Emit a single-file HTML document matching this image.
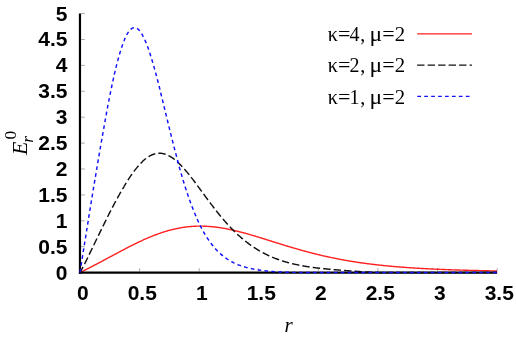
<!DOCTYPE html>
<html><head><meta charset="utf-8"><style>
html,body{margin:0;padding:0;background:#fff;}
svg{display:block;will-change:transform}
.b{font-family:"Liberation Sans",sans-serif;font-weight:bold;font-size:21px;fill:#000}
.s{font-family:"Liberation Serif",serif;font-size:20px;fill:#000}
.i{font-family:"Liberation Serif",serif;font-style:italic;fill:#000}
</style></head><body>
<svg width="516" height="338" viewBox="0 0 516 338">
<rect width="516" height="338" fill="#fff"/>
<line x1="80.0" y1="271.4" x2="80.0" y2="268.2" stroke="#444" stroke-width="0.45"/>
<line x1="139.6" y1="271.4" x2="139.6" y2="268.2" stroke="#444" stroke-width="0.45"/>
<line x1="199.2" y1="271.4" x2="199.2" y2="268.2" stroke="#444" stroke-width="0.45"/>
<line x1="258.7" y1="271.4" x2="258.7" y2="268.2" stroke="#444" stroke-width="0.45"/>
<line x1="318.3" y1="271.4" x2="318.3" y2="268.2" stroke="#444" stroke-width="0.45"/>
<line x1="377.9" y1="271.4" x2="377.9" y2="268.2" stroke="#444" stroke-width="0.45"/>
<line x1="437.5" y1="271.4" x2="437.5" y2="268.2" stroke="#444" stroke-width="0.45"/>
<line x1="497.1" y1="271.4" x2="497.1" y2="268.2" stroke="#444" stroke-width="0.45"/>
<line x1="81" y1="272.6" x2="84.8" y2="272.6" stroke="#444" stroke-width="0.45"/>
<line x1="81" y1="246.7" x2="84.8" y2="246.7" stroke="#444" stroke-width="0.45"/>
<line x1="81" y1="220.8" x2="84.8" y2="220.8" stroke="#444" stroke-width="0.45"/>
<line x1="81" y1="194.9" x2="84.8" y2="194.9" stroke="#444" stroke-width="0.45"/>
<line x1="81" y1="169.0" x2="84.8" y2="169.0" stroke="#444" stroke-width="0.45"/>
<line x1="81" y1="143.1" x2="84.8" y2="143.1" stroke="#444" stroke-width="0.45"/>
<line x1="81" y1="117.2" x2="84.8" y2="117.2" stroke="#444" stroke-width="0.45"/>
<line x1="81" y1="91.3" x2="84.8" y2="91.3" stroke="#444" stroke-width="0.45"/>
<line x1="81" y1="65.4" x2="84.8" y2="65.4" stroke="#444" stroke-width="0.45"/>
<line x1="81" y1="39.5" x2="84.8" y2="39.5" stroke="#444" stroke-width="0.45"/>
<line x1="81" y1="13.6" x2="84.8" y2="13.6" stroke="#444" stroke-width="0.45"/>

<path d="M80.0,272.55 L80.6,272.26 L81.2,271.96 L81.8,271.67 L82.4,271.37 L83.0,271.07 L83.6,270.78 L84.2,270.48 L84.8,270.18 L85.4,269.88 L86.0,269.58 L86.6,269.28 L87.2,268.97 L87.8,268.67 L88.4,268.37 L88.9,268.06 L89.5,267.76 L90.1,267.45 L90.7,267.14 L91.3,266.84 L91.9,266.53 L92.5,266.22 L93.1,265.91 L93.7,265.60 L94.3,265.29 L94.9,264.97 L95.5,264.66 L96.1,264.35 L96.7,264.04 L97.3,263.72 L97.9,263.41 L98.5,263.09 L99.1,262.78 L99.7,262.46 L100.3,262.14 L100.9,261.83 L101.5,261.51 L102.1,261.19 L102.7,260.87 L103.3,260.56 L103.9,260.24 L104.5,259.92 L105.1,259.60 L105.7,259.28 L106.3,258.96 L106.8,258.64 L107.4,258.32 L108.0,258.00 L108.6,257.68 L109.2,257.36 L109.8,257.04 L110.4,256.72 L111.0,256.40 L111.6,256.08 L112.2,255.76 L112.8,255.44 L113.4,255.12 L114.0,254.80 L114.6,254.48 L115.2,254.16 L115.8,253.84 L116.4,253.52 L117.0,253.20 L117.6,252.88 L118.2,252.56 L118.8,252.25 L119.4,251.93 L120.0,251.61 L120.6,251.29 L121.2,250.98 L121.8,250.66 L122.4,250.35 L123.0,250.04 L123.6,249.72 L124.2,249.41 L124.7,249.10 L125.3,248.79 L125.9,248.48 L126.5,248.17 L127.1,247.86 L127.7,247.55 L128.3,247.24 L128.9,246.94 L129.5,246.63 L130.1,246.33 L130.7,246.03 L131.3,245.73 L131.9,245.42 L132.5,245.13 L133.1,244.83 L133.7,244.53 L134.3,244.24 L134.9,243.94 L135.5,243.65 L136.1,243.36 L136.7,243.07 L137.3,242.78 L137.9,242.49 L138.5,242.21 L139.1,241.92 L139.7,241.64 L140.3,241.36 L140.9,241.08 L141.5,240.80 L142.1,240.53 L142.6,240.26 L143.2,239.98 L143.8,239.71 L144.4,239.45 L145.0,239.18 L145.6,238.92 L146.2,238.65 L146.8,238.39 L147.4,238.14 L148.0,237.88 L148.6,237.63 L149.2,237.37 L149.8,237.12 L150.4,236.88 L151.0,236.63 L151.6,236.39 L152.2,236.15 L152.8,235.91 L153.4,235.67 L154.0,235.44 L154.6,235.21 L155.2,234.98 L155.8,234.75 L156.4,234.53 L157.0,234.31 L157.6,234.09 L158.2,233.87 L158.8,233.66 L159.4,233.45 L160.0,233.24 L160.5,233.04 L161.1,232.83 L161.7,232.63 L162.3,232.44 L162.9,232.24 L163.5,232.05 L164.1,231.86 L164.7,231.67 L165.3,231.49 L165.9,231.31 L166.5,231.13 L167.1,230.96 L167.7,230.79 L168.3,230.62 L168.9,230.45 L169.5,230.29 L170.1,230.13 L170.7,229.97 L171.3,229.82 L171.9,229.67 L172.5,229.52 L173.1,229.37 L173.7,229.23 L174.3,229.09 L174.9,228.96 L175.5,228.82 L176.1,228.70 L176.7,228.57 L177.3,228.45 L177.9,228.33 L178.4,228.21 L179.0,228.10 L179.6,227.99 L180.2,227.88 L180.8,227.77 L181.4,227.67 L182.0,227.58 L182.6,227.48 L183.2,227.39 L183.8,227.30 L184.4,227.22 L185.0,227.14 L185.6,227.06 L186.2,226.98 L186.8,226.91 L187.4,226.84 L188.0,226.78 L188.6,226.71 L189.2,226.65 L189.8,226.60 L190.4,226.55 L191.0,226.50 L191.6,226.45 L192.2,226.41 L192.8,226.37 L193.4,226.33 L194.0,226.30 L194.6,226.26 L195.2,226.24 L195.8,226.21 L196.3,226.19 L196.9,226.17 L197.5,226.16 L198.1,226.15 L198.7,226.14 L199.3,226.13 L199.9,226.13 L200.5,226.13 L201.1,226.13 L201.7,226.14 L202.3,226.15 L202.9,226.16 L203.5,226.18 L204.1,226.19 L204.7,226.21 L205.3,226.24 L205.9,226.27 L206.5,226.30 L207.1,226.33 L207.7,226.36 L208.3,226.40 L208.9,226.44 L209.5,226.49 L210.1,226.53 L210.7,226.58 L211.3,226.64 L211.9,226.69 L212.5,226.75 L213.1,226.81 L213.7,226.87 L214.2,226.94 L214.8,227.00 L215.4,227.07 L216.0,227.15 L216.6,227.22 L217.2,227.30 L217.8,227.38 L218.4,227.47 L219.0,227.55 L219.6,227.64 L220.2,227.73 L220.8,227.82 L221.4,227.92 L222.0,228.01 L222.6,228.11 L223.2,228.21 L223.8,228.32 L224.4,228.42 L225.0,228.53 L225.6,228.64 L226.2,228.76 L226.8,228.87 L227.4,228.99 L228.0,229.10 L228.6,229.23 L229.2,229.35 L229.8,229.47 L230.4,229.60 L231.0,229.73 L231.5,229.86 L232.1,229.99 L232.7,230.12 L233.3,230.26 L233.9,230.39 L234.5,230.53 L235.1,230.67 L235.7,230.81 L236.3,230.96 L236.9,231.10 L237.5,231.25 L238.1,231.40 L238.7,231.55 L239.3,231.70 L239.9,231.85 L240.5,232.00 L241.1,232.16 L241.7,232.32 L242.3,232.47 L242.9,232.63 L243.5,232.79 L244.1,232.95 L244.7,233.12 L245.3,233.28 L245.9,233.45 L246.5,233.61 L247.1,233.78 L247.7,233.95 L248.3,234.12 L248.9,234.29 L249.4,234.46 L250.0,234.63 L250.6,234.80 L251.2,234.98 L251.8,235.15 L252.4,235.33 L253.0,235.50 L253.6,235.68 L254.2,235.86 L254.8,236.04 L255.4,236.22 L256.0,236.40 L256.6,236.58 L257.2,236.76 L257.8,236.94 L258.4,237.12 L259.0,237.30 L259.6,237.49 L260.2,237.67 L260.8,237.85 L261.4,238.04 L262.0,238.22 L262.6,238.41 L263.2,238.59 L263.8,238.78 L264.4,238.96 L265.0,239.15 L265.6,239.34 L266.2,239.52 L266.8,239.71 L267.3,239.90 L267.9,240.08 L268.5,240.27 L269.1,240.46 L269.7,240.65 L270.3,240.83 L270.9,241.02 L271.5,241.21 L272.1,241.40 L272.7,241.58 L273.3,241.77 L273.9,241.96 L274.5,242.15 L275.1,242.33 L275.7,242.52 L276.3,242.71 L276.9,242.89 L277.5,243.08 L278.1,243.27 L278.7,243.45 L279.3,243.64 L279.9,243.83 L280.5,244.01 L281.1,244.20 L281.7,244.38 L282.3,244.57 L282.9,244.75 L283.5,244.93 L284.1,245.12 L284.7,245.30 L285.2,245.48 L285.8,245.67 L286.4,245.85 L287.0,246.03 L287.6,246.21 L288.2,246.39 L288.8,246.57 L289.4,246.75 L290.0,246.93 L290.6,247.11 L291.2,247.28 L291.8,247.46 L292.4,247.64 L293.0,247.82 L293.6,247.99 L294.2,248.17 L294.8,248.34 L295.4,248.51 L296.0,248.69 L296.6,248.86 L297.2,249.03 L297.8,249.20 L298.4,249.37 L299.0,249.54 L299.6,249.71 L300.2,249.88 L300.8,250.05 L301.4,250.22 L302.0,250.38 L302.6,250.55 L303.1,250.71 L303.7,250.88 L304.3,251.04 L304.9,251.20 L305.5,251.37 L306.1,251.53 L306.7,251.69 L307.3,251.85 L307.9,252.01 L308.5,252.17 L309.1,252.32 L309.7,252.48 L310.3,252.64 L310.9,252.79 L311.5,252.94 L312.1,253.10 L312.7,253.25 L313.3,253.40 L313.9,253.55 L314.5,253.70 L315.1,253.85 L315.7,254.00 L316.3,254.15 L316.9,254.29 L317.5,254.44 L318.1,254.59 L318.7,254.73 L319.3,254.87 L319.9,255.01 L320.5,255.16 L321.0,255.30 L321.6,255.44 L322.2,255.58 L322.8,255.71 L323.4,255.85 L324.0,255.99 L324.6,256.12 L325.2,256.26 L325.8,256.39 L326.4,256.52 L327.0,256.66 L327.6,256.79 L328.2,256.92 L328.8,257.05 L329.4,257.18 L330.0,257.30 L330.6,257.43 L331.2,257.56 L331.8,257.68 L332.4,257.81 L333.0,257.93 L333.6,258.05 L334.2,258.17 L334.8,258.29 L335.4,258.41 L336.0,258.53 L336.6,258.65 L337.2,258.77 L337.8,258.89 L338.4,259.00 L338.9,259.12 L339.5,259.23 L340.1,259.34 L340.7,259.46 L341.3,259.57 L341.9,259.68 L342.5,259.79 L343.1,259.90 L343.7,260.00 L344.3,260.11 L344.9,260.22 L345.5,260.32 L346.1,260.43 L346.7,260.53 L347.3,260.64 L347.9,260.74 L348.5,260.84 L349.1,260.94 L349.7,261.04 L350.3,261.14 L350.9,261.24 L351.5,261.34 L352.1,261.43 L352.7,261.53 L353.3,261.62 L353.9,261.72 L354.5,261.81 L355.1,261.91 L355.7,262.00 L356.3,262.09 L356.8,262.18 L357.4,262.27 L358.0,262.36 L358.6,262.45 L359.2,262.54 L359.8,262.62 L360.4,262.71 L361.0,262.79 L361.6,262.88 L362.2,262.96 L362.8,263.05 L363.4,263.13 L364.0,263.21 L364.6,263.29 L365.2,263.37 L365.8,263.45 L366.4,263.53 L367.0,263.61 L367.6,263.69 L368.2,263.77 L368.8,263.84 L369.4,263.92 L370.0,263.99 L370.6,264.07 L371.2,264.14 L371.8,264.21 L372.4,264.29 L373.0,264.36 L373.6,264.43 L374.1,264.50 L374.7,264.57 L375.3,264.64 L375.9,264.71 L376.5,264.78 L377.1,264.85 L377.7,264.91 L378.3,264.98 L378.9,265.04 L379.5,265.11 L380.1,265.17 L380.7,265.24 L381.3,265.30 L381.9,265.36 L382.5,265.43 L383.1,265.49 L383.7,265.55 L384.3,265.61 L384.9,265.67 L385.5,265.73 L386.1,265.79 L386.7,265.85 L387.3,265.90 L387.9,265.96 L388.5,266.02 L389.1,266.07 L389.7,266.13 L390.3,266.19 L390.9,266.24 L391.5,266.29 L392.0,266.35 L392.6,266.40 L393.2,266.45 L393.8,266.51 L394.4,266.56 L395.0,266.61 L395.6,266.66 L396.2,266.71 L396.8,266.76 L397.4,266.81 L398.0,266.86 L398.6,266.91 L399.2,266.96 L399.8,267.00 L400.4,267.05 L401.0,267.10 L401.6,267.14 L402.2,267.19 L402.8,267.23 L403.4,267.28 L404.0,267.32 L404.6,267.37 L405.2,267.41 L405.8,267.45 L406.4,267.50 L407.0,267.54 L407.6,267.58 L408.2,267.62 L408.8,267.66 L409.4,267.71 L409.9,267.75 L410.5,267.79 L411.1,267.83 L411.7,267.87 L412.3,267.90 L412.9,267.94 L413.5,267.98 L414.1,268.02 L414.7,268.06 L415.3,268.09 L415.9,268.13 L416.5,268.17 L417.1,268.20 L417.7,268.24 L418.3,268.27 L418.9,268.31 L419.5,268.34 L420.1,268.38 L420.7,268.41 L421.3,268.45 L421.9,268.48 L422.5,268.51 L423.1,268.55 L423.7,268.58 L424.3,268.61 L424.9,268.64 L425.5,268.67 L426.1,268.71 L426.7,268.74 L427.3,268.77 L427.8,268.80 L428.4,268.83 L429.0,268.86 L429.6,268.89 L430.2,268.92 L430.8,268.95 L431.4,268.97 L432.0,269.00 L432.6,269.03 L433.2,269.06 L433.8,269.09 L434.4,269.11 L435.0,269.14 L435.6,269.17 L436.2,269.19 L436.8,269.22 L437.4,269.25 L438.0,269.27 L438.6,269.30 L439.2,269.32 L439.8,269.35 L440.4,269.37 L441.0,269.40 L441.6,269.42 L442.2,269.45 L442.8,269.47 L443.4,269.50 L444.0,269.52 L444.6,269.54 L445.2,269.57 L445.7,269.59 L446.3,269.61 L446.9,269.63 L447.5,269.66 L448.1,269.68 L448.7,269.70 L449.3,269.72 L449.9,269.74 L450.5,269.76 L451.1,269.79 L451.7,269.81 L452.3,269.83 L452.9,269.85 L453.5,269.87 L454.1,269.89 L454.7,269.91 L455.3,269.93 L455.9,269.95 L456.5,269.97 L457.1,269.99 L457.7,270.01 L458.3,270.02 L458.9,270.04 L459.5,270.06 L460.1,270.08 L460.7,270.10 L461.3,270.12 L461.9,270.13 L462.5,270.15 L463.1,270.17 L463.6,270.19 L464.2,270.20 L464.8,270.22 L465.4,270.24 L466.0,270.26 L466.6,270.27 L467.2,270.29 L467.8,270.31 L468.4,270.32 L469.0,270.34 L469.6,270.35 L470.2,270.37 L470.8,270.39 L471.4,270.40 L472.0,270.42 L472.6,270.43 L473.2,270.45 L473.8,270.46 L474.4,270.48 L475.0,270.49 L475.6,270.51 L476.2,270.52 L476.8,270.54 L477.4,270.55 L478.0,270.56 L478.6,270.58 L479.2,270.59 L479.8,270.61 L480.4,270.62 L481.0,270.63 L481.5,270.65 L482.1,270.66 L482.7,270.67 L483.3,270.69 L483.9,270.70 L484.5,270.71 L485.1,270.73 L485.7,270.74 L486.3,270.75 L486.9,270.76 L487.5,270.78 L488.1,270.79 L488.7,270.80 L489.3,270.81 L489.9,270.83 L490.5,270.84 L491.1,270.85 L491.7,270.86 L492.3,270.87 L492.9,270.89 L493.5,270.90 L494.1,270.91 L494.7,270.92 L495.3,270.93 L495.9,270.94 L496.5,270.95 L497.1,270.96" fill="none" stroke="#ff2020" stroke-width="1.4" stroke-linejoin="round"/>
<line x1="79.97" y1="13.6" x2="79.97" y2="273.7" stroke="#000" stroke-width="2.2"/>
<line x1="78.9" y1="272.55" x2="497.1" y2="272.55" stroke="#000" stroke-width="2.3"/>
<path d="M80.0,272.55 L80.6,271.47 L81.2,270.38 L81.8,269.27 L82.4,268.14 L83.0,267.01 L83.6,265.86 L84.2,264.70 L84.8,263.53 L85.4,262.35 L86.0,261.16 L86.6,259.96 L87.2,258.76 L87.8,257.55 L88.4,256.34 L88.9,255.12 L89.5,253.89 L90.1,252.67 L90.7,251.43 L91.3,250.20 L91.9,248.96 L92.5,247.73 L93.1,246.49 L93.7,245.25 L94.3,244.01 L94.9,242.77 L95.5,241.53 L96.1,240.29 L96.7,239.05 L97.3,237.81 L97.9,236.57 L98.5,235.34 L99.1,234.11 L99.7,232.88 L100.3,231.65 L100.9,230.42 L101.5,229.20 L102.1,227.98 L102.7,226.76 L103.3,225.55 L103.9,224.34 L104.5,223.13 L105.1,221.92 L105.7,220.73 L106.3,219.53 L106.8,218.34 L107.4,217.15 L108.0,215.97 L108.6,214.79 L109.2,213.61 L109.8,212.45 L110.4,211.28 L111.0,210.12 L111.6,208.97 L112.2,207.82 L112.8,206.68 L113.4,205.54 L114.0,204.41 L114.6,203.28 L115.2,202.16 L115.8,201.05 L116.4,199.94 L117.0,198.85 L117.6,197.75 L118.2,196.67 L118.8,195.59 L119.4,194.52 L120.0,193.46 L120.6,192.40 L121.2,191.35 L121.8,190.32 L122.4,189.29 L123.0,188.27 L123.6,187.26 L124.2,186.25 L124.7,185.26 L125.3,184.28 L125.9,183.31 L126.5,182.35 L127.1,181.39 L127.7,180.45 L128.3,179.53 L128.9,178.61 L129.5,177.70 L130.1,176.81 L130.7,175.93 L131.3,175.06 L131.9,174.21 L132.5,173.36 L133.1,172.54 L133.7,171.72 L134.3,170.92 L134.9,170.14 L135.5,169.36 L136.1,168.61 L136.7,167.87 L137.3,167.14 L137.9,166.43 L138.5,165.74 L139.1,165.06 L139.7,164.40 L140.3,163.76 L140.9,163.13 L141.5,162.52 L142.1,161.93 L142.6,161.36 L143.2,160.80 L143.8,160.26 L144.4,159.75 L145.0,159.25 L145.6,158.76 L146.2,158.30 L146.8,157.86 L147.4,157.44 L148.0,157.03 L148.6,156.65 L149.2,156.29 L149.8,155.94 L150.4,155.62 L151.0,155.32 L151.6,155.03 L152.2,154.77 L152.8,154.53 L153.4,154.31 L154.0,154.11 L154.6,153.93 L155.2,153.77 L155.8,153.64 L156.4,153.52 L157.0,153.42 L157.6,153.35 L158.2,153.29 L158.8,153.26 L159.4,153.25 L160.0,153.25 L160.5,153.28 L161.1,153.33 L161.7,153.40 L162.3,153.49 L162.9,153.60 L163.5,153.73 L164.1,153.88 L164.7,154.05 L165.3,154.24 L165.9,154.45 L166.5,154.67 L167.1,154.92 L167.7,155.18 L168.3,155.47 L168.9,155.77 L169.5,156.09 L170.1,156.43 L170.7,156.78 L171.3,157.15 L171.9,157.54 L172.5,157.95 L173.1,158.37 L173.7,158.81 L174.3,159.27 L174.9,159.74 L175.5,160.22 L176.1,160.72 L176.7,161.24 L177.3,161.77 L177.9,162.31 L178.4,162.87 L179.0,163.44 L179.6,164.02 L180.2,164.62 L180.8,165.22 L181.4,165.84 L182.0,166.48 L182.6,167.12 L183.2,167.77 L183.8,168.43 L184.4,169.11 L185.0,169.79 L185.6,170.48 L186.2,171.19 L186.8,171.90 L187.4,172.61 L188.0,173.34 L188.6,174.07 L189.2,174.82 L189.8,175.56 L190.4,176.32 L191.0,177.08 L191.6,177.84 L192.2,178.62 L192.8,179.39 L193.4,180.17 L194.0,180.96 L194.6,181.75 L195.2,182.54 L195.8,183.34 L196.3,184.14 L196.9,184.95 L197.5,185.75 L198.1,186.56 L198.7,187.37 L199.3,188.18 L199.9,188.99 L200.5,189.81 L201.1,190.62 L201.7,191.44 L202.3,192.25 L202.9,193.07 L203.5,193.88 L204.1,194.70 L204.7,195.51 L205.3,196.32 L205.9,197.14 L206.5,197.95 L207.1,198.75 L207.7,199.56 L208.3,200.36 L208.9,201.17 L209.5,201.97 L210.1,202.76 L210.7,203.56 L211.3,204.35 L211.9,205.14 L212.5,205.92 L213.1,206.70 L213.7,207.48 L214.2,208.25 L214.8,209.02 L215.4,209.79 L216.0,210.55 L216.6,211.30 L217.2,212.06 L217.8,212.80 L218.4,213.55 L219.0,214.28 L219.6,215.02 L220.2,215.74 L220.8,216.47 L221.4,217.18 L222.0,217.90 L222.6,218.60 L223.2,219.30 L223.8,220.00 L224.4,220.69 L225.0,221.37 L225.6,222.05 L226.2,222.73 L226.8,223.39 L227.4,224.05 L228.0,224.71 L228.6,225.36 L229.2,226.00 L229.8,226.64 L230.4,227.27 L231.0,227.90 L231.5,228.52 L232.1,229.13 L232.7,229.74 L233.3,230.34 L233.9,230.93 L234.5,231.52 L235.1,232.10 L235.7,232.68 L236.3,233.25 L236.9,233.81 L237.5,234.37 L238.1,234.92 L238.7,235.47 L239.3,236.01 L239.9,236.54 L240.5,237.07 L241.1,237.59 L241.7,238.10 L242.3,238.61 L242.9,239.12 L243.5,239.61 L244.1,240.10 L244.7,240.59 L245.3,241.07 L245.9,241.54 L246.5,242.01 L247.1,242.47 L247.7,242.93 L248.3,243.38 L248.9,243.82 L249.4,244.26 L250.0,244.69 L250.6,245.12 L251.2,245.54 L251.8,245.96 L252.4,246.37 L253.0,246.77 L253.6,247.17 L254.2,247.57 L254.8,247.96 L255.4,248.34 L256.0,248.72 L256.6,249.09 L257.2,249.46 L257.8,249.82 L258.4,250.18 L259.0,250.54 L259.6,250.88 L260.2,251.23 L260.8,251.56 L261.4,251.90 L262.0,252.23 L262.6,252.55 L263.2,252.87 L263.8,253.18 L264.4,253.49 L265.0,253.80 L265.6,254.10 L266.2,254.40 L266.8,254.69 L267.3,254.98 L267.9,255.26 L268.5,255.54 L269.1,255.81 L269.7,256.08 L270.3,256.35 L270.9,256.61 L271.5,256.87 L272.1,257.12 L272.7,257.37 L273.3,257.62 L273.9,257.86 L274.5,258.10 L275.1,258.34 L275.7,258.57 L276.3,258.79 L276.9,259.02 L277.5,259.24 L278.1,259.46 L278.7,259.67 L279.3,259.88 L279.9,260.08 L280.5,260.29 L281.1,260.49 L281.7,260.68 L282.3,260.88 L282.9,261.07 L283.5,261.25 L284.1,261.44 L284.7,261.62 L285.2,261.80 L285.8,261.97 L286.4,262.14 L287.0,262.31 L287.6,262.48 L288.2,262.64 L288.8,262.80 L289.4,262.96 L290.0,263.12 L290.6,263.27 L291.2,263.42 L291.8,263.57 L292.4,263.71 L293.0,263.85 L293.6,263.99 L294.2,264.13 L294.8,264.27 L295.4,264.40 L296.0,264.53 L296.6,264.66 L297.2,264.78 L297.8,264.91 L298.4,265.03 L299.0,265.15 L299.6,265.27 L300.2,265.38 L300.8,265.50 L301.4,265.61 L302.0,265.72 L302.6,265.83 L303.1,265.93 L303.7,266.04 L304.3,266.14 L304.9,266.24 L305.5,266.34 L306.1,266.43 L306.7,266.53 L307.3,266.62 L307.9,266.72 L308.5,266.81 L309.1,266.90 L309.7,266.99 L310.3,267.07 L310.9,267.16 L311.5,267.24 L312.1,267.32 L312.7,267.40 L313.3,267.48 L313.9,267.56 L314.5,267.64 L315.1,267.71 L315.7,267.79 L316.3,267.86 L316.9,267.93 L317.5,268.01 L318.1,268.08 L318.7,268.15 L319.3,268.21 L319.9,268.28 L320.5,268.35 L321.0,268.41 L321.6,268.48 L322.2,268.54 L322.8,268.60 L323.4,268.66 L324.0,268.72 L324.6,268.78 L325.2,268.84 L325.8,268.90 L326.4,268.96 L327.0,269.02 L327.6,269.07 L328.2,269.13 L328.8,269.19 L329.4,269.24 L330.0,269.29 L330.6,269.35 L331.2,269.40 L331.8,269.45 L332.4,269.51 L333.0,269.56 L333.6,269.61 L334.2,269.66 L334.8,269.71 L335.4,269.76 L336.0,269.81 L336.6,269.86 L337.2,269.91 L337.8,269.95 L338.4,270.00 L338.9,270.05 L339.5,270.10 L340.1,270.15 L340.7,270.19 L341.3,270.24 L341.9,270.29 L342.5,270.33 L343.1,270.38 L343.7,270.42 L344.3,270.47 L344.9,270.51 L345.5,270.56 L346.1,270.60 L346.7,270.65 L347.3,270.69 L347.9,270.74 L348.5,270.78 L349.1,270.83 L349.7,270.87 L350.3,270.91 L350.9,270.96 L351.5,271.00 L352.1,271.04 L352.7,271.09 L353.3,271.13 L353.9,271.17 L354.5,271.21 L355.1,271.25 L355.7,271.29 L356.3,271.34 L356.8,271.38 L357.4,271.42 L358.0,271.46 L358.6,271.50 L359.2,271.53 L359.8,271.57 L360.4,271.61 L361.0,271.65 L361.6,271.68 L362.2,271.72 L362.8,271.76 L363.4,271.79 L364.0,271.83 L364.6,271.86 L365.2,271.89 L365.8,271.93 L366.4,271.96 L367.0,271.99 L367.6,272.02 L368.2,272.05 L368.8,272.08 L369.4,272.10 L370.0,272.13 L370.6,272.15 L371.2,272.18 L371.8,272.20 L372.4,272.23 L373.0,272.25 L373.6,272.27 L374.1,272.29 L374.7,272.31 L375.3,272.33 L375.9,272.34 L376.5,272.36 L377.1,272.38 L377.7,272.39 L378.3,272.41 L378.9,272.42 L379.5,272.43 L380.1,272.44 L380.7,272.45 L381.3,272.46 L381.9,272.47 L382.5,272.48 L383.1,272.49 L383.7,272.49 L384.3,272.50 L384.9,272.51 L385.5,272.51 L386.1,272.52 L386.7,272.52 L387.3,272.52 L387.9,272.53 L388.5,272.53 L389.1,272.53 L389.7,272.54 L390.3,272.54 L390.9,272.54 L391.5,272.54 L392.0,272.54 L392.6,272.54 L393.2,272.54 L393.8,272.55 L394.4,272.55 L395.0,272.55 L395.6,272.55 L396.2,272.55 L396.8,272.55 L397.4,272.55 L398.0,272.55 L398.6,272.55 L399.2,272.55 L399.8,272.55 L400.4,272.55 L401.0,272.55 L401.6,272.55 L402.2,272.55 L402.8,272.55 L403.4,272.55 L404.0,272.55 L404.6,272.55 L405.2,272.55 L405.8,272.55 L406.4,272.55 L407.0,272.55 L407.6,272.55 L408.2,272.55 L408.8,272.55 L409.4,272.55 L409.9,272.55 L410.5,272.55 L411.1,272.55 L411.7,272.55 L412.3,272.55 L412.9,272.55 L413.5,272.55 L414.1,272.55 L414.7,272.55 L415.3,272.55 L415.9,272.55 L416.5,272.55 L417.1,272.55 L417.7,272.55 L418.3,272.55 L418.9,272.55 L419.5,272.55 L420.1,272.55 L420.7,272.55 L421.3,272.55 L421.9,272.55 L422.5,272.55 L423.1,272.55 L423.7,272.55 L424.3,272.55 L424.9,272.55 L425.5,272.55 L426.1,272.55 L426.7,272.55 L427.3,272.55 L427.8,272.55 L428.4,272.55 L429.0,272.55 L429.6,272.55 L430.2,272.55 L430.8,272.55 L431.4,272.55 L432.0,272.55 L432.6,272.55 L433.2,272.55 L433.8,272.55 L434.4,272.55 L435.0,272.55 L435.6,272.55 L436.2,272.55 L436.8,272.55 L437.4,272.55 L438.0,272.55 L438.6,272.55 L439.2,272.55 L439.8,272.55 L440.4,272.55 L441.0,272.55 L441.6,272.55 L442.2,272.55 L442.8,272.55 L443.4,272.55 L444.0,272.55 L444.6,272.55 L445.2,272.55 L445.7,272.55 L446.3,272.55 L446.9,272.55 L447.5,272.55 L448.1,272.55 L448.7,272.55 L449.3,272.55 L449.9,272.55 L450.5,272.55 L451.1,272.55 L451.7,272.55 L452.3,272.55 L452.9,272.55 L453.5,272.55 L454.1,272.55 L454.7,272.55 L455.3,272.55 L455.9,272.55 L456.5,272.55 L457.1,272.55 L457.7,272.55 L458.3,272.55 L458.9,272.55 L459.5,272.55 L460.1,272.55 L460.7,272.55 L461.3,272.55 L461.9,272.55 L462.5,272.55 L463.1,272.55 L463.6,272.55 L464.2,272.55 L464.8,272.55 L465.4,272.55 L466.0,272.55 L466.6,272.55 L467.2,272.55 L467.8,272.55 L468.4,272.55 L469.0,272.55 L469.6,272.55 L470.2,272.55 L470.8,272.55 L471.4,272.55 L472.0,272.55 L472.6,272.55 L473.2,272.55 L473.8,272.55 L474.4,272.55 L475.0,272.55 L475.6,272.55 L476.2,272.55 L476.8,272.55 L477.4,272.55 L478.0,272.55 L478.6,272.55 L479.2,272.55 L479.8,272.55 L480.4,272.55 L481.0,272.55 L481.5,272.55 L482.1,272.55 L482.7,272.55 L483.3,272.55 L483.9,272.55 L484.5,272.55 L485.1,272.55 L485.7,272.55 L486.3,272.55 L486.9,272.55 L487.5,272.55 L488.1,272.55 L488.7,272.55 L489.3,272.55 L489.9,272.55 L490.5,272.55 L491.1,272.55 L491.7,272.55 L492.3,272.55 L492.9,272.55 L493.5,272.55 L494.1,272.55 L494.7,272.55 L495.3,272.55 L495.9,272.55 L496.5,272.55 L497.1,272.55" fill="none" stroke="#111" stroke-width="1.45" stroke-dashoffset="0.9" stroke-dasharray="7.4 3.1" stroke-linejoin="round"/>
<path d="M80.0,272.55 L80.6,268.65 L81.2,264.78 L81.8,260.93 L82.4,257.10 L83.0,253.30 L83.6,249.52 L84.2,245.75 L84.8,242.00 L85.4,238.27 L86.0,234.55 L86.6,230.84 L87.2,227.14 L87.8,223.45 L88.4,219.77 L88.9,216.11 L89.5,212.44 L90.1,208.79 L90.7,205.15 L91.3,201.51 L91.9,197.88 L92.5,194.26 L93.1,190.64 L93.7,187.03 L94.3,183.43 L94.9,179.84 L95.5,176.26 L96.1,172.69 L96.7,169.13 L97.3,165.58 L97.9,162.04 L98.5,158.52 L99.1,155.01 L99.7,151.51 L100.3,148.04 L100.9,144.57 L101.5,141.13 L102.1,137.71 L102.7,134.31 L103.3,130.93 L103.9,127.58 L104.5,124.25 L105.1,120.95 L105.7,117.68 L106.3,114.44 L106.8,111.24 L107.4,108.07 L108.0,104.93 L108.6,101.83 L109.2,98.78 L109.8,95.76 L110.4,92.79 L111.0,89.86 L111.6,86.98 L112.2,84.15 L112.8,81.36 L113.4,78.64 L114.0,75.96 L114.6,73.34 L115.2,70.78 L115.8,68.28 L116.4,65.84 L117.0,63.47 L117.6,61.15 L118.2,58.91 L118.8,56.73 L119.4,54.62 L120.0,52.59 L120.6,50.62 L121.2,48.73 L121.8,46.91 L122.4,45.17 L123.0,43.51 L123.6,41.93 L124.2,40.42 L124.7,39.00 L125.3,37.65 L125.9,36.39 L126.5,35.22 L127.1,34.12 L127.7,33.11 L128.3,32.19 L128.9,31.35 L129.5,30.60 L130.1,29.93 L130.7,29.35 L131.3,28.86 L131.9,28.45 L132.5,28.13 L133.1,27.89 L133.7,27.74 L134.3,27.68 L134.9,27.70 L135.5,27.80 L136.1,27.99 L136.7,28.26 L137.3,28.62 L137.9,29.05 L138.5,29.57 L139.1,30.17 L139.7,30.84 L140.3,31.60 L140.9,32.43 L141.5,33.33 L142.1,34.31 L142.6,35.36 L143.2,36.49 L143.8,37.68 L144.4,38.94 L145.0,40.27 L145.6,41.66 L146.2,43.12 L146.8,44.63 L147.4,46.21 L148.0,47.84 L148.6,49.53 L149.2,51.28 L149.8,53.08 L150.4,54.92 L151.0,56.82 L151.6,58.76 L152.2,60.74 L152.8,62.77 L153.4,64.84 L154.0,66.95 L154.6,69.09 L155.2,71.27 L155.8,73.48 L156.4,75.72 L157.0,77.99 L157.6,80.28 L158.2,82.60 L158.8,84.94 L159.4,87.30 L160.0,89.68 L160.5,92.08 L161.1,94.49 L161.7,96.92 L162.3,99.35 L162.9,101.80 L163.5,104.25 L164.1,106.71 L164.7,109.17 L165.3,111.64 L165.9,114.11 L166.5,116.57 L167.1,119.04 L167.7,121.50 L168.3,123.96 L168.9,126.41 L169.5,128.85 L170.1,131.28 L170.7,133.70 L171.3,136.12 L171.9,138.51 L172.5,140.90 L173.1,143.27 L173.7,145.62 L174.3,147.96 L174.9,150.28 L175.5,152.58 L176.1,154.86 L176.7,157.12 L177.3,159.36 L177.9,161.58 L178.4,163.78 L179.0,165.95 L179.6,168.10 L180.2,170.22 L180.8,172.32 L181.4,174.39 L182.0,176.44 L182.6,178.46 L183.2,180.45 L183.8,182.42 L184.4,184.36 L185.0,186.28 L185.6,188.16 L186.2,190.02 L186.8,191.85 L187.4,193.65 L188.0,195.42 L188.6,197.17 L189.2,198.88 L189.8,200.57 L190.4,202.23 L191.0,203.86 L191.6,205.46 L192.2,207.04 L192.8,208.58 L193.4,210.10 L194.0,211.59 L194.6,213.05 L195.2,214.49 L195.8,215.90 L196.3,217.28 L196.9,218.63 L197.5,219.96 L198.1,221.26 L198.7,222.53 L199.3,223.78 L199.9,225.00 L200.5,226.19 L201.1,227.37 L201.7,228.51 L202.3,229.63 L202.9,230.73 L203.5,231.80 L204.1,232.85 L204.7,233.88 L205.3,234.89 L205.9,235.87 L206.5,236.83 L207.1,237.76 L207.7,238.68 L208.3,239.57 L208.9,240.45 L209.5,241.30 L210.1,242.14 L210.7,242.95 L211.3,243.74 L211.9,244.52 L212.5,245.28 L213.1,246.02 L213.7,246.74 L214.2,247.44 L214.8,248.12 L215.4,248.79 L216.0,249.45 L216.6,250.08 L217.2,250.70 L217.8,251.31 L218.4,251.90 L219.0,252.47 L219.6,253.03 L220.2,253.58 L220.8,254.11 L221.4,254.63 L222.0,255.13 L222.6,255.62 L223.2,256.10 L223.8,256.57 L224.4,257.02 L225.0,257.47 L225.6,257.90 L226.2,258.32 L226.8,258.73 L227.4,259.13 L228.0,259.51 L228.6,259.89 L229.2,260.26 L229.8,260.61 L230.4,260.96 L231.0,261.30 L231.5,261.63 L232.1,261.95 L232.7,262.26 L233.3,262.57 L233.9,262.86 L234.5,263.15 L235.1,263.43 L235.7,263.70 L236.3,263.97 L236.9,264.22 L237.5,264.47 L238.1,264.72 L238.7,264.95 L239.3,265.19 L239.9,265.41 L240.5,265.63 L241.1,265.84 L241.7,266.05 L242.3,266.25 L242.9,266.44 L243.5,266.63 L244.1,266.81 L244.7,266.99 L245.3,267.17 L245.9,267.34 L246.5,267.50 L247.1,267.66 L247.7,267.82 L248.3,267.97 L248.9,268.11 L249.4,268.26 L250.0,268.40 L250.6,268.53 L251.2,268.66 L251.8,268.79 L252.4,268.91 L253.0,269.03 L253.6,269.15 L254.2,269.26 L254.8,269.37 L255.4,269.48 L256.0,269.58 L256.6,269.69 L257.2,269.78 L257.8,269.88 L258.4,269.97 L259.0,270.06 L259.6,270.15 L260.2,270.23 L260.8,270.31 L261.4,270.39 L262.0,270.47 L262.6,270.55 L263.2,270.62 L263.8,270.69 L264.4,270.76 L265.0,270.82 L265.6,270.89 L266.2,270.95 L266.8,271.01 L267.3,271.07 L267.9,271.13 L268.5,271.18 L269.1,271.23 L269.7,271.28 L270.3,271.33 L270.9,271.38 L271.5,271.43 L272.1,271.48 L272.7,271.52 L273.3,271.56 L273.9,271.60 L274.5,271.64 L275.1,271.68 L275.7,271.72 L276.3,271.75 L276.9,271.79 L277.5,271.82 L278.1,271.85 L278.7,271.88 L279.3,271.91 L279.9,271.94 L280.5,271.97 L281.1,272.00 L281.7,272.02 L282.3,272.05 L282.9,272.07 L283.5,272.09 L284.1,272.12 L284.7,272.14 L285.2,272.16 L285.8,272.18 L286.4,272.20 L287.0,272.21 L287.6,272.23 L288.2,272.25 L288.8,272.26 L289.4,272.28 L290.0,272.29 L290.6,272.31 L291.2,272.32 L291.8,272.33 L292.4,272.35 L293.0,272.36 L293.6,272.37 L294.2,272.38 L294.8,272.39 L295.4,272.40 L296.0,272.41 L296.6,272.42 L297.2,272.42 L297.8,272.43 L298.4,272.44 L299.0,272.45 L299.6,272.45 L300.2,272.46 L300.8,272.47 L301.4,272.47 L302.0,272.48 L302.6,272.48 L303.1,272.49 L303.7,272.49 L304.3,272.50 L304.9,272.50 L305.5,272.50 L306.1,272.51 L306.7,272.51 L307.3,272.51 L307.9,272.52 L308.5,272.52 L309.1,272.52 L309.7,272.52 L310.3,272.53 L310.9,272.53 L311.5,272.53 L312.1,272.53 L312.7,272.53 L313.3,272.53 L313.9,272.54 L314.5,272.54 L315.1,272.54 L315.7,272.54 L316.3,272.54 L316.9,272.54 L317.5,272.54 L318.1,272.54 L318.7,272.54 L319.3,272.54 L319.9,272.54 L320.5,272.55 L321.0,272.55 L321.6,272.55 L322.2,272.55 L322.8,272.55 L323.4,272.55 L324.0,272.55 L324.6,272.55 L325.2,272.55 L325.8,272.55 L326.4,272.55 L327.0,272.55 L327.6,272.55 L328.2,272.55 L328.8,272.55 L329.4,272.55 L330.0,272.55 L330.6,272.55 L331.2,272.55 L331.8,272.55 L332.4,272.55 L333.0,272.55 L333.6,272.55 L334.2,272.55 L334.8,272.55 L335.4,272.55 L336.0,272.55 L336.6,272.55 L337.2,272.55 L337.8,272.55 L338.4,272.55 L338.9,272.55 L339.5,272.55 L340.1,272.55 L340.7,272.55 L341.3,272.55 L341.9,272.55 L342.5,272.55 L343.1,272.55 L343.7,272.55 L344.3,272.55 L344.9,272.55 L345.5,272.55 L346.1,272.55 L346.7,272.55 L347.3,272.55 L347.9,272.55 L348.5,272.55 L349.1,272.55 L349.7,272.55 L350.3,272.55 L350.9,272.55 L351.5,272.55 L352.1,272.55 L352.7,272.55 L353.3,272.55 L353.9,272.55 L354.5,272.55 L355.1,272.55 L355.7,272.55 L356.3,272.55 L356.8,272.55 L357.4,272.55 L358.0,272.55 L358.6,272.55 L359.2,272.55 L359.8,272.55 L360.4,272.55 L361.0,272.55 L361.6,272.55 L362.2,272.55 L362.8,272.55 L363.4,272.55 L364.0,272.55 L364.6,272.55 L365.2,272.55 L365.8,272.55 L366.4,272.55 L367.0,272.55 L367.6,272.55 L368.2,272.55 L368.8,272.55 L369.4,272.55 L370.0,272.55 L370.6,272.55 L371.2,272.55 L371.8,272.55 L372.4,272.55 L373.0,272.55 L373.6,272.55 L374.1,272.55 L374.7,272.55 L375.3,272.55 L375.9,272.55 L376.5,272.55 L377.1,272.55 L377.7,272.55 L378.3,272.55 L378.9,272.55 L379.5,272.55 L380.1,272.55 L380.7,272.55 L381.3,272.55 L381.9,272.55 L382.5,272.55 L383.1,272.55 L383.7,272.55 L384.3,272.55 L384.9,272.55 L385.5,272.55 L386.1,272.55 L386.7,272.55 L387.3,272.55 L387.9,272.55 L388.5,272.55 L389.1,272.55 L389.7,272.55 L390.3,272.55 L390.9,272.55 L391.5,272.55 L392.0,272.55 L392.6,272.55 L393.2,272.55 L393.8,272.55 L394.4,272.55 L395.0,272.55 L395.6,272.55 L396.2,272.55 L396.8,272.55 L397.4,272.55 L398.0,272.55 L398.6,272.55 L399.2,272.55 L399.8,272.55 L400.4,272.55 L401.0,272.55 L401.6,272.55 L402.2,272.55 L402.8,272.55 L403.4,272.55 L404.0,272.55 L404.6,272.55 L405.2,272.55 L405.8,272.55 L406.4,272.55 L407.0,272.55 L407.6,272.55 L408.2,272.55 L408.8,272.55 L409.4,272.55 L409.9,272.55 L410.5,272.55 L411.1,272.55 L411.7,272.55 L412.3,272.55 L412.9,272.55 L413.5,272.55 L414.1,272.55 L414.7,272.55 L415.3,272.55 L415.9,272.55 L416.5,272.55 L417.1,272.55 L417.7,272.55 L418.3,272.55 L418.9,272.55 L419.5,272.55 L420.1,272.55 L420.7,272.55 L421.3,272.55 L421.9,272.55 L422.5,272.55 L423.1,272.55 L423.7,272.55 L424.3,272.55 L424.9,272.55 L425.5,272.55 L426.1,272.55 L426.7,272.55 L427.3,272.55 L427.8,272.55 L428.4,272.55 L429.0,272.55 L429.6,272.55 L430.2,272.55 L430.8,272.55 L431.4,272.55 L432.0,272.55 L432.6,272.55 L433.2,272.55 L433.8,272.55 L434.4,272.55 L435.0,272.55 L435.6,272.55 L436.2,272.55 L436.8,272.55 L437.4,272.55 L438.0,272.55 L438.6,272.55 L439.2,272.55 L439.8,272.55 L440.4,272.55 L441.0,272.55 L441.6,272.55 L442.2,272.55 L442.8,272.55 L443.4,272.55 L444.0,272.55 L444.6,272.55 L445.2,272.55 L445.7,272.55 L446.3,272.55 L446.9,272.55 L447.5,272.55 L448.1,272.55 L448.7,272.55 L449.3,272.55 L449.9,272.55 L450.5,272.55 L451.1,272.55 L451.7,272.55 L452.3,272.55 L452.9,272.55 L453.5,272.55 L454.1,272.55 L454.7,272.55 L455.3,272.55 L455.9,272.55 L456.5,272.55 L457.1,272.55 L457.7,272.55 L458.3,272.55 L458.9,272.55 L459.5,272.55 L460.1,272.55 L460.7,272.55 L461.3,272.55 L461.9,272.55 L462.5,272.55 L463.1,272.55 L463.6,272.55 L464.2,272.55 L464.8,272.55 L465.4,272.55 L466.0,272.55 L466.6,272.55 L467.2,272.55 L467.8,272.55 L468.4,272.55 L469.0,272.55 L469.6,272.55 L470.2,272.55 L470.8,272.55 L471.4,272.55 L472.0,272.55 L472.6,272.55 L473.2,272.55 L473.8,272.55 L474.4,272.55 L475.0,272.55 L475.6,272.55 L476.2,272.55 L476.8,272.55 L477.4,272.55 L478.0,272.55 L478.6,272.55 L479.2,272.55 L479.8,272.55 L480.4,272.55 L481.0,272.55 L481.5,272.55 L482.1,272.55 L482.7,272.55 L483.3,272.55 L483.9,272.55 L484.5,272.55 L485.1,272.55 L485.7,272.55 L486.3,272.55 L486.9,272.55 L487.5,272.55 L488.1,272.55 L488.7,272.55 L489.3,272.55 L489.9,272.55 L490.5,272.55 L491.1,272.55 L491.7,272.55 L492.3,272.55 L492.9,272.55 L493.5,272.55 L494.1,272.55 L494.7,272.55 L495.3,272.55 L495.9,272.55 L496.5,272.55 L497.1,272.55" fill="none" stroke="#1010ff" stroke-width="1.45" stroke-dasharray="3.7 3.23" stroke-linejoin="round"/>
<text x="82.8" y="300.2" text-anchor="middle" class="b">0</text>
<text x="142.3" y="300.2" text-anchor="middle" class="b">0.5</text>
<text x="201.8" y="300.2" text-anchor="middle" class="b">1</text>
<text x="261.3" y="300.2" text-anchor="middle" class="b">1.5</text>
<text x="320.8" y="300.2" text-anchor="middle" class="b">2</text>
<text x="380.3" y="300.2" text-anchor="middle" class="b">2.5</text>
<text x="439.8" y="300.2" text-anchor="middle" class="b">3</text>
<text x="499.3" y="300.2" text-anchor="middle" class="b">3.5</text>
<text x="67.5" y="279.5" text-anchor="end" class="b">0</text>
<text x="67.5" y="253.6" text-anchor="end" class="b">0.5</text>
<text x="67.5" y="227.7" text-anchor="end" class="b">1</text>
<text x="67.5" y="201.8" text-anchor="end" class="b">1.5</text>
<text x="67.5" y="175.9" text-anchor="end" class="b">2</text>
<text x="67.5" y="150.0" text-anchor="end" class="b">2.5</text>
<text x="67.5" y="124.1" text-anchor="end" class="b">3</text>
<text x="67.5" y="98.2" text-anchor="end" class="b">3.5</text>
<text x="67.5" y="72.3" text-anchor="end" class="b">4</text>
<text x="67.5" y="46.4" text-anchor="end" class="b">4.5</text>
<text x="67.5" y="20.5" text-anchor="end" class="b">5</text>

<text x="284.6" y="331.5" class="i" font-size="21">r</text>
<g transform="translate(27,155) rotate(-90)">
<text x="0" y="0" class="i" font-size="22">E</text>
<text x="12.2" y="6" class="i" font-size="17.5">r</text>
<text x="15.6" y="-11.2" class="s" style="font-size:17.5px">0</text>
</g>
<text x="327.8" y="40.8" class="s">κ</text><text transform="translate(338.0,40.8) scale(1.1,1)" class="s">=</text><text x="349.55" y="40.8" class="s">4</text><text x="360.3" y="40.8" class="s">,</text><text transform="translate(369.6,40.8) scale(1.18,1)" class="s">μ</text><text transform="translate(382.2,40.8) scale(1.1,1)" class="s">=</text><text transform="translate(394.7,40.8) scale(1.04,1)" class="s">2</text>
<text x="327.8" y="71.8" class="s">κ</text><text transform="translate(338.0,71.8) scale(1.1,1)" class="s">=</text><text x="349.55" y="71.8" class="s">2</text><text x="360.3" y="71.8" class="s">,</text><text transform="translate(369.6,71.8) scale(1.18,1)" class="s">μ</text><text transform="translate(382.2,71.8) scale(1.1,1)" class="s">=</text><text transform="translate(394.7,71.8) scale(1.04,1)" class="s">2</text>
<text x="327.8" y="103.5" class="s">κ</text><text transform="translate(338.0,103.5) scale(1.1,1)" class="s">=</text><text x="349.55" y="103.5" class="s">1</text><text x="360.3" y="103.5" class="s">,</text><text transform="translate(369.6,103.5) scale(1.18,1)" class="s">μ</text><text transform="translate(382.2,103.5) scale(1.1,1)" class="s">=</text><text transform="translate(394.7,103.5) scale(1.04,1)" class="s">2</text>
<line x1="417.2" y1="33.9" x2="472" y2="33.9" stroke="#ff2020" stroke-width="1.3"/>
<line x1="417.1" y1="65.05" x2="471.9" y2="65.05" stroke="#111" stroke-width="1.3" stroke-dasharray="7.4 3.1"/>
<line x1="417.3" y1="96.45" x2="469.7" y2="96.45" stroke="#1010ff" stroke-width="1.3" stroke-dasharray="3.7 3.23"/>
</svg>
</body></html>
